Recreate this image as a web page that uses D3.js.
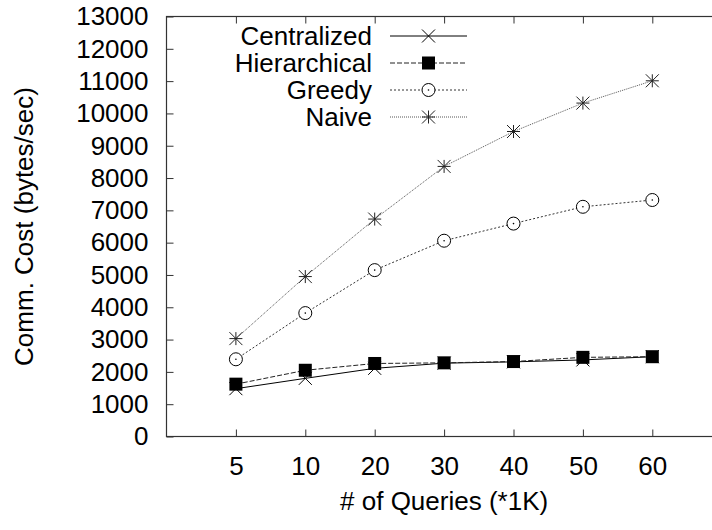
<!DOCTYPE html>
<html>
<head>
<meta charset="utf-8">
<script src="https://cdn.jsdelivr.net/npm/d3@7/dist/d3.min.js"></script>
<style>
  html, body { margin: 0; padding: 0; background: #fff; }
  svg { display: block; }
  text { font-family: "Liberation Sans", Arial, Helvetica, sans-serif; fill: #000; }
</style>
</head>
<body>
<svg id="chart" width="712" height="530"></svg>
<script>
// Query counts (thousands) along the x axis
const categories = ["5", "10", "20", "30", "40", "50", "60"];

// Communication cost (bytes/sec) per strategy
const centralized  = [1480, 1800, 2110, 2270, 2310, 2370, 2470];
const hierarchical = [1620, 2050, 2260, 2280, 2320, 2450, 2470];
const greedy       = [2390, 3820, 5150, 6060, 6590, 7110, 7320];
const naive        = [3030, 4950, 6730, 8360, 9440, 10320, 11010];

const seriesNames = ["Centralized", "Hierarchical", "Greedy", "Naive"];
const yTicks = d3.range(0, 13001, 1000);

const series = [
  { name: seriesNames[0], values: centralized,  marker: "cross",  stroke: "#000", dash: null,  width: 1 },
  { name: seriesNames[1], values: hierarchical, marker: "square", stroke: "#222", dash: "5,2", width: 1 },
  { name: seriesNames[2], values: greedy,       marker: "circle", stroke: "#333", dash: "2,2", width: 1 },
  { name: seriesNames[3], values: naive,        marker: "star",   stroke: "#555", dash: "1,1", width: 1 }
];

const svg = d3.select("#chart");

// Plot frame: categories sit at positions 1..7 on a 0..8 index range
const plotLeft = 166.5, plotTop = 16.5, plotBottom = 436.5, step = 69.4;
const x = d3.scaleLinear().domain([0, 8]).range([plotLeft, plotLeft + 8 * step]);
const y = d3.scaleLinear().domain([0, 13000]).range([plotBottom, plotTop]);
const xi = i => x(i + 1);

const FONT = 26;
const TICK = 7;

// frame
svg.append("rect")
  .attr("x", x(0)).attr("y", y(13000))
  .attr("width", x(8) - x(0)).attr("height", y(0) - y(13000))
  .attr("fill", "none").attr("stroke", "#333").attr("stroke-width", 1.2);

// y ticks (inward) and labels
const yAxis = d3.axisLeft(y).tickValues(yTicks).tickFormat(d3.format("d"))
  .tickSizeInner(-TICK).tickSizeOuter(0).tickPadding(18);
const gy = svg.append("g").attr("transform", `translate(${x(0)},0)`).call(yAxis);
gy.select(".domain").remove();
gy.selectAll(".tick line").attr("stroke", "#333");
gy.selectAll(".tick text").attr("font-size", FONT).attr("font-family", null).attr("fill", "#000");

// x ticks at bottom (inward) with labels, mirrored on top
const xAxis = d3.axisBottom(x).tickValues(categories.map((c, i) => i + 1))
  .tickFormat((d) => categories[d - 1]).tickSizeInner(-TICK).tickSizeOuter(0).tickPadding(20);
const gx = svg.append("g").attr("transform", `translate(0,${y(0)})`).call(xAxis);
gx.select(".domain").remove();
gx.selectAll(".tick line").attr("stroke", "#333");
gx.selectAll(".tick text").attr("font-size", FONT).attr("font-family", null).attr("fill", "#000");

const gxTop = svg.append("g").attr("transform", `translate(0,${y(13000)})`)
  .call(d3.axisTop(x).tickValues(categories.map((c, i) => i + 1)).tickFormat("").tickSizeInner(-TICK).tickSizeOuter(0));
gxTop.select(".domain").remove();
gxTop.selectAll(".tick line").attr("stroke", "#333");

// axis titles
svg.append("text")
  .attr("x", x(4)).attr("y", 510)
  .attr("text-anchor", "middle").attr("font-size", FONT)
  .text("# of Queries (*1K)");

svg.append("text")
  .attr("transform", `translate(33,${(y(0) + y(13000)) / 2}) rotate(-90)`)
  .attr("text-anchor", "middle").attr("font-size", FONT)
  .text("Comm. Cost (bytes/sec)");

// marker drawing
function drawMarker(g, type, cx, cy) {
  const s = 6.5;
  if (type === "cross") {
    g.append("path").attr("d", `M${cx - s},${cy - s}L${cx + s},${cy + s}M${cx - s},${cy + s}L${cx + s},${cy - s}`)
      .attr("stroke", "#000").attr("stroke-width", 1).attr("fill", "none");
  } else if (type === "square") {
    g.append("rect").attr("x", cx - s).attr("y", cy - s).attr("width", 2 * s).attr("height", 2 * s)
      .attr("fill", "#000");
  } else if (type === "circle") {
    g.append("circle").attr("cx", cx).attr("cy", cy).attr("r", s)
      .attr("fill", "#fff").attr("stroke", "#000").attr("stroke-width", 1);
    g.append("circle").attr("cx", cx).attr("cy", cy).attr("r", 0.8).attr("fill", "#000");
  } else if (type === "star") {
    g.append("path").attr("d",
      `M${cx - s},${cy - s}L${cx + s},${cy + s}M${cx - s},${cy + s}L${cx + s},${cy - s}` +
      `M${cx},${cy - s}L${cx},${cy + s}M${cx - s},${cy}L${cx + s},${cy}`)
      .attr("stroke", "#222").attr("stroke-width", 1).attr("fill", "none");
  }
}

const line = d3.line().x((d, i) => xi(i)).y(d => y(d));

// series lines and markers (drawn back to front so squares sit on top)
const order = [3, 2, 0, 1];
order.forEach(k => {
  const s = series[k];
  const g = svg.append("g");
  g.append("path").datum(s.values).attr("d", line)
    .attr("fill", "none").attr("stroke", s.stroke).attr("stroke-width", s.width)
    .attr("stroke-dasharray", s.dash);
  s.values.forEach((v, i) => drawMarker(g, s.marker, xi(i), y(v)));
});

// legend
const legendRows = [36, 63, 90, 117];
series.forEach((s, k) => {
  const g = svg.append("g");
  const ly = legendRows[k];
  g.append("text").attr("x", 372).attr("y", ly).attr("dy", "0.35em")
    .attr("text-anchor", "end").attr("font-size", FONT).text(s.name);
  g.append("line").attr("x1", 390).attr("x2", 467).attr("y1", ly).attr("y2", ly)
    .attr("stroke", s.stroke).attr("stroke-width", s.width).attr("stroke-dasharray", s.dash);
  drawMarker(g, s.marker, 428.5, ly);
});
</script>
</body>
</html>
